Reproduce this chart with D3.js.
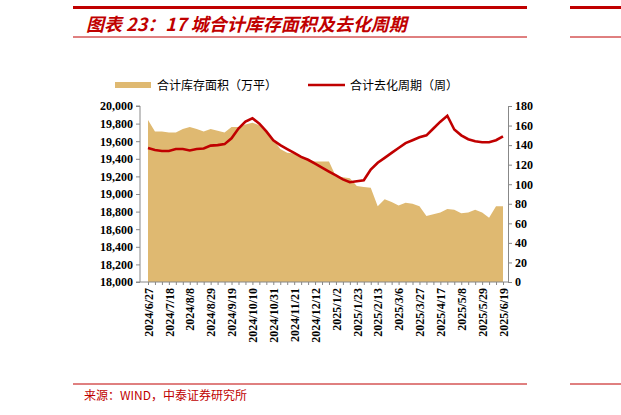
<!DOCTYPE html>
<html><head><meta charset="utf-8">
<script src="https://cdn.jsdelivr.net/npm/d3@7"></script>
<style>body{margin:0;background:#fff}</style>
</head><body>
<script>
// weekly data, 2024/6/27 .. 2025/6/19
const start = new Date(2024, 5, 27);
const dates = d3.range(52).map(i => d3.timeDay.offset(start, i * 7));
const tickEvery = 3;

// inventory area (万平)
const inventory = [19840, 19710, 19710, 19700, 19700, 19740, 19760, 19740, 19710, 19740,
  19720, 19700, 19760, 19760, 19790, 19810, 19780, 19700, 19620, 19510,
  19470, 19460, 19430, 19390, 19370, 19370, 19370, 19200, 19190, 19180,
  19090, 19080, 19070, 18860, 18940, 18910, 18870, 18900, 18890, 18860,
  18750, 18770, 18790, 18830, 18820, 18780, 18790, 18820, 18790, 18730,
  18860, 18860];
// destocking cycle (weeks)
const cycle = [137, 135, 134, 134, 136, 136, 134.5, 136, 136.5, 139.5,
  140, 141, 147, 157, 164, 167.5, 162, 154, 145, 140,
  136, 132, 128, 125, 121, 117, 113, 109, 105, 102,
  103, 104, 115, 122, 127, 132, 137, 142, 145, 148,
  150, 157, 164, 170, 156, 150, 146, 144, 143, 143,
  145, 149];
const leftTicks = d3.range(18000, 20001, 200);
const rightTicks = d3.range(0, 181, 20);

const W = 621, H = 415;
const svg = d3.select("body").append("svg").attr("width", W).attr("height", H);
const red = "#c00000", gold = "#dfb971";

// header rules and title
svg.append("rect").attr("x", 73).attr("y", 6).attr("width", 454).attr("height", 3).attr("fill", red);
svg.append("rect").attr("x", 570).attr("y", 6).attr("width", 51).attr("height", 3).attr("fill", red);
svg.append("line").attr("x1", 73).attr("x2", 527).attr("y1", 37).attr("y2", 37).attr("stroke", red);
svg.append("line").attr("x1", 570).attr("x2", 621).attr("y1", 37).attr("y2", 37).attr("stroke", red);
svg.append("text").attr("x", 86).attr("y", 31).attr("fill", red)
  .style("font", "italic bold 18px 'Noto Sans CJK SC'").text("图表 23：17 城合计库存面积及去化周期");

// footer
svg.append("line").attr("x1", 73).attr("x2", 527).attr("y1", 384).attr("y2", 384).attr("stroke", red);
svg.append("line").attr("x1", 570).attr("x2", 621).attr("y1", 384).attr("y2", 384).attr("stroke", red);
svg.append("text").attr("x", 84).attr("y", 400).attr("fill", red)
  .style("font", "12px 'Noto Sans CJK SC'").text("来源：WIND，中泰证券研究所");

// scales
const x = d3.scaleTime().domain([dates[0], dates[51]]).range([148, 503]);
const yL = d3.scaleLinear().domain([18000, 20000]).range([282, 106]);
const yR = d3.scaleLinear().domain([0, 180]).range([282, 106]);

svg.append("path").datum(inventory)
  .attr("fill", gold)
  .attr("d", d3.area().x((d, i) => x(dates[i])).y0(yL(18000)).y1(d => yL(d)));

svg.append("path").datum(cycle)
  .attr("fill", "none").attr("stroke", red).attr("stroke-width", 2.6)
  .attr("d", d3.line().x((d, i) => x(dates[i])).y(d => yR(d)));

const axL = svg.append("g").attr("transform", "translate(140,0)")
  .call(d3.axisLeft(yL).tickValues(leftTicks).tickSize(4).tickFormat(d3.format(",")));
const axR = svg.append("g").attr("transform", "translate(508,0)")
  .call(d3.axisRight(yR).tickValues(rightTicks).tickSize(4));
const axX = svg.append("g").attr("transform", "translate(0,282)")
  .call(d3.axisBottom(x).tickValues(dates).tickSize(3)
    .tickFormat((d, i) => i % tickEvery === 0 ? d3.timeFormat("%Y/%-m/%-d")(d) : ""));
[axL, axR, axX].forEach(a => {
  a.attr("font-family", "Liberation Serif").attr("font-size", 12).attr("font-weight", "bold");
  a.selectAll("text").attr("fill", "#000");
  a.selectAll("line,path").attr("stroke", "#888");
});
axL.select(".domain").attr("d", "M-4,106H0V282H-4");
axX.select(".domain").attr("d", "M140,0H508");
axX.selectAll("text").attr("transform", "rotate(-90)").attr("text-anchor", "end")
  .attr("x", -6).attr("y", 0).attr("dy", "0.35em");

// legend
const lg = svg.append("g").attr("transform", "translate(0,85)");
lg.append("rect").attr("x", 115).attr("y", -3).attr("width", 36).attr("height", 6).attr("fill", gold);
lg.append("text").attr("x", 157).attr("y", 5).style("font", "12px 'Noto Sans CJK SC'").text("合计库存面积（万平）");
lg.append("line").attr("x1", 308).attr("x2", 345).attr("y1", 0).attr("y2", 0).attr("stroke", red).attr("stroke-width", 2.6);
lg.append("text").attr("x", 350).attr("y", 5).style("font", "12px 'Noto Sans CJK SC'").text("合计去化周期（周）");
</script>
</body></html>
